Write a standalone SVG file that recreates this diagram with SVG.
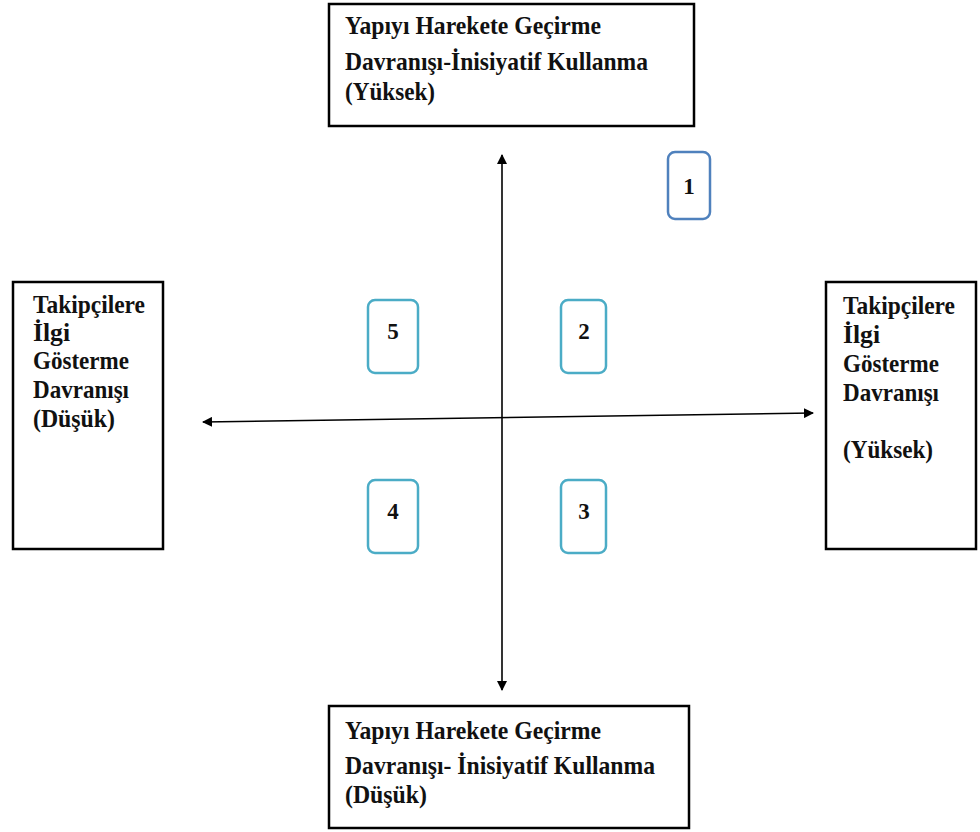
<svg xmlns="http://www.w3.org/2000/svg" width="980" height="832" viewBox="0 0 980 832">
  <defs>
    <marker id="arrow" viewBox="0 0 10 10" refX="9" refY="5" markerWidth="10" markerHeight="10" markerUnits="userSpaceOnUse" orient="auto-start-reverse">
      <path d="M0,0 L10,5 L0,10 z" fill="#000"/>
    </marker>
    <style>
      .box { fill: #fff; stroke: #000; stroke-width: 2.5; }
      .label { font-family: "Liberation Serif", "Times New Roman", serif; font-weight: bold; font-size: 24.5px; fill: #111; }
      .num { font-family: "Liberation Serif", "Times New Roman", serif; font-weight: bold; font-size: 23px; fill: #111; text-anchor: middle; }
      .tag { fill: #fff; stroke: #4bacc6; stroke-width: 2.5; }
      .tag1 { fill: #fff; stroke: #4f81bd; stroke-width: 2.5; }
      .axis { stroke: #000; stroke-width: 1.6; fill: none; }
    </style>
  </defs>
  <rect width="980" height="832" fill="#fff"/>

  <g id="connectors">
    <line class="axis" x1="502" y1="690" x2="502" y2="155" marker-start="url(#arrow)" marker-end="url(#arrow)"/>
    <line class="axis" x1="203" y1="422" x2="813" y2="413" marker-start="url(#arrow)" marker-end="url(#arrow)"/>
  </g>

  <g id="top-high">
    <rect class="box" x="329" y="4" width="365" height="122"/>
    <text class="label" x="345" y="34" textLength="256" lengthAdjust="spacingAndGlyphs">Yapıyı Harekete Geçirme</text>
    <text class="label" x="345" y="70" textLength="303" lengthAdjust="spacingAndGlyphs">Davranışı-İnisiyatif Kullanma</text>
    <text class="label" x="345" y="100" textLength="90" lengthAdjust="spacingAndGlyphs">(Yüksek)</text>
  </g>

  <g id="bottom-low">
    <rect class="box" x="329" y="706" width="360" height="122"/>
    <text class="label" x="345" y="739" textLength="256" lengthAdjust="spacingAndGlyphs">Yapıyı Harekete Geçirme</text>
    <text class="label" x="345" y="774" textLength="310" lengthAdjust="spacingAndGlyphs">Davranışı- İnisiyatif Kullanma</text>
    <text class="label" x="345" y="803" textLength="82" lengthAdjust="spacingAndGlyphs">(Düşük)</text>
  </g>

  <g id="left-low">
    <rect class="box" x="13" y="282" width="150" height="267"/>
    <text class="label" x="33" y="313" textLength="112" lengthAdjust="spacingAndGlyphs">Takipçilere</text>
    <text class="label" x="33" y="341" textLength="37" lengthAdjust="spacingAndGlyphs">İlgi</text>
    <text class="label" x="33" y="369" textLength="96" lengthAdjust="spacingAndGlyphs">Gösterme</text>
    <text class="label" x="33" y="398" textLength="96" lengthAdjust="spacingAndGlyphs">Davranışı</text>
    <text class="label" x="33" y="427" textLength="82" lengthAdjust="spacingAndGlyphs">(Düşük)</text>
  </g>

  <g id="right-high">
    <rect class="box" x="826" y="282" width="150" height="267"/>
    <text class="label" x="843" y="314" textLength="112" lengthAdjust="spacingAndGlyphs">Takipçilere</text>
    <text class="label" x="843" y="343" textLength="37" lengthAdjust="spacingAndGlyphs">İlgi</text>
    <text class="label" x="843" y="372" textLength="96" lengthAdjust="spacingAndGlyphs">Gösterme</text>
    <text class="label" x="843" y="401" textLength="96" lengthAdjust="spacingAndGlyphs">Davranışı</text>
    <text class="label" x="843" y="458" textLength="90" lengthAdjust="spacingAndGlyphs">(Yüksek)</text>
  </g>

  <g id="q1">
    <rect class="tag1" x="668" y="152" width="42" height="67" rx="7"/>
    <text class="num" x="689" y="194">1</text>
  </g>
  <g id="q2">
    <rect class="tag" x="561" y="300" width="45" height="73" rx="7"/>
    <text class="num" x="584" y="339">2</text>
  </g>
  <g id="q3">
    <rect class="tag" x="561" y="480" width="45" height="73" rx="7"/>
    <text class="num" x="584" y="519">3</text>
  </g>
  <g id="q4">
    <rect class="tag" x="368" y="480" width="50" height="73" rx="7"/>
    <text class="num" x="393" y="519">4</text>
  </g>
  <g id="q5">
    <rect class="tag" x="368" y="300" width="50" height="73" rx="7"/>
    <text class="num" x="393" y="339">5</text>
  </g>
</svg>
